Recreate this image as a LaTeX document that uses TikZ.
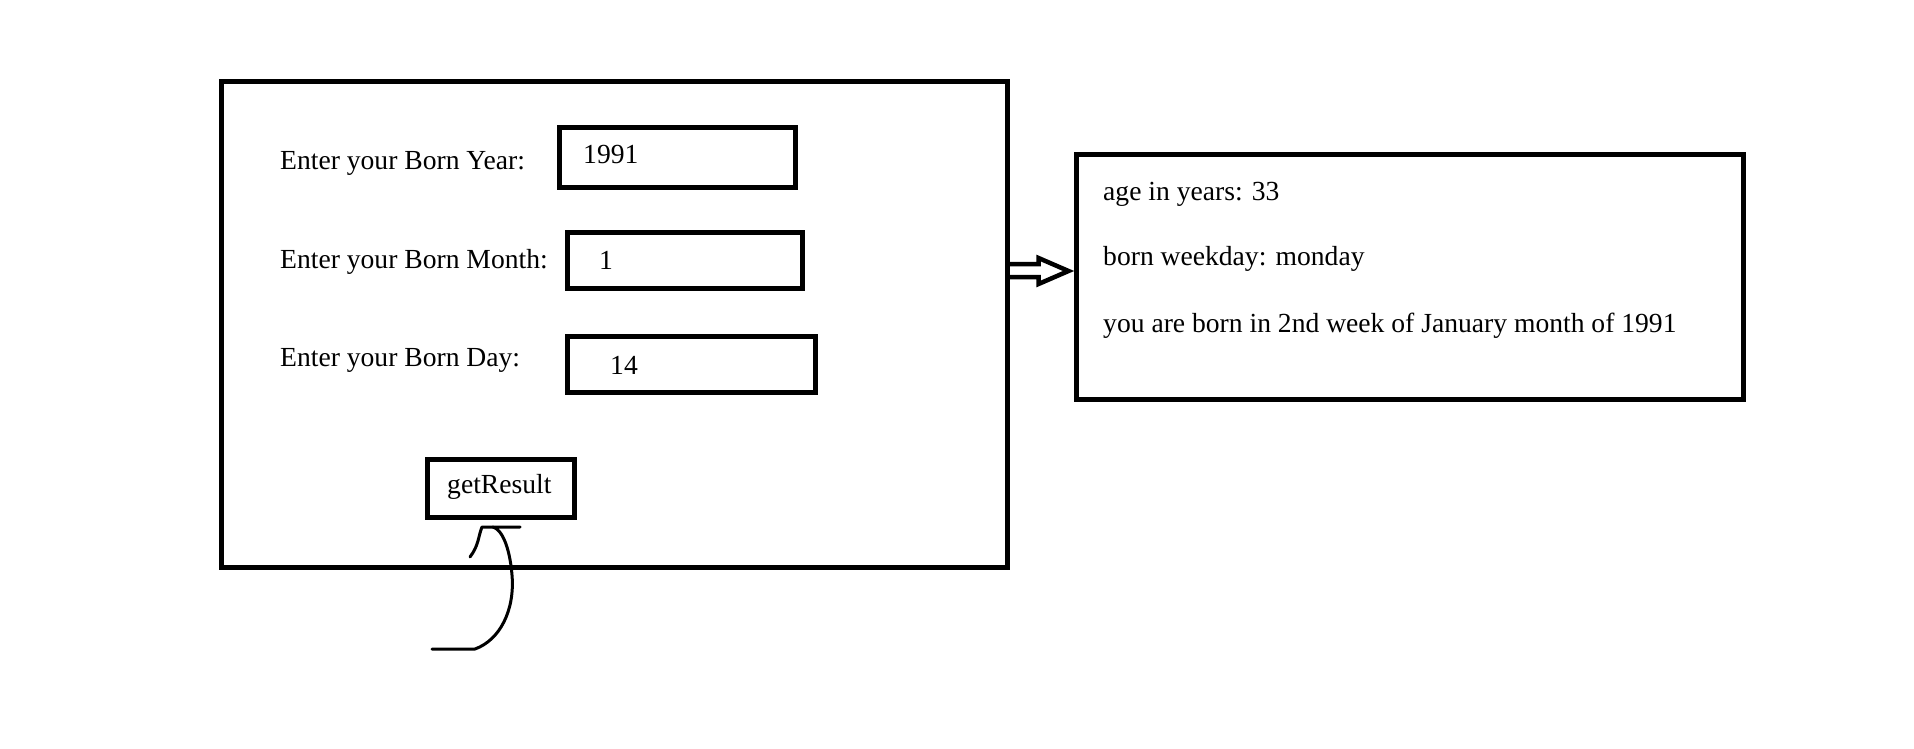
\documentclass[tikz,border=0pt]{standalone}
\usepackage{fontspec}
\setmainfont{Liberation Serif}
\usetikzlibrary{calc}
\begin{document}
\begin{tikzpicture}[x=1pt,y=-1pt,
  frame/.style={draw=black,line width=5pt,rectangle,inner sep=0pt},
  txt/.style={anchor=base west,inner sep=0pt,font=\fontsize{27.6}{33}\selectfont},
  hand/.style={draw=black,line width=3pt,line cap=round,line join=round}]
\useasboundingbox[fill=white] (0,0) rectangle (1914,749);
% main form
\node[frame,minimum width=786pt,minimum height=485pt] (main) at (614,324.5) {};
\node[frame,minimum width=236pt,minimum height=59pt] (yearbox) at (677,157.5) {};
\node[frame,minimum width=235pt,minimum height=56pt] (monthbox) at (684.5,260) {};
\node[frame,minimum width=248pt,minimum height=56pt] (daybox) at (691,364) {};
\node[frame,minimum width=147pt,minimum height=58pt] (btn) at (500.5,488) {};
\node[txt] (lyear) at (280,169) {Enter your Born Year:};
\node[txt] (lmonth) at (280,268) {Enter your Born Month:};
\node[txt] (lday) at (280,366) {Enter your Born Day:};
\node[txt] (vyear) at (583,164) {1991};
\node[txt] (vmonth) at (599,269) {1};
\node[txt] (vday) at (610,374) {14};
\node[txt] (btntext) at (447,493) {getResult};
% result box
\node[frame,minimum width=667pt,minimum height=244pt] (res) at (1409.5,277) {};
\node[txt] (r1) at (1103,200) {age in years: 33};
\node[txt] (r2) at (1103,265) {born weekday: monday};
\node[txt] (r3) at (1103,332) {you are born in 2nd week of January month of 1991};
% hollow arrow from main to result
\draw[line width=4.5pt,line join=miter]
  ($(main.east)+(-2,-60.5)$) -- ++(31,0) -- ++(0,-6) -- ($(res.west)+(-5,-6)$)
  -- ($(main.east)+(29,-40.5)$) -- ++(0,-7) -- ($(main.east)+(-2,-47.5)$) -- cycle;
% hand-drawn click mark
\coordinate (c0) at (432,649);
\coordinate (ctop) at (493,527);
\draw[hand] (c0) -- (475,649) .. controls (500,640) and (515,610) .. (512,575)
  .. controls (510,550) and (503,530) .. (ctop) -- (520,527);
\draw[hand] (ctop) -- (482,527) .. controls (478,537) and (479,545) .. (470,557);
\end{tikzpicture}
\end{document}
